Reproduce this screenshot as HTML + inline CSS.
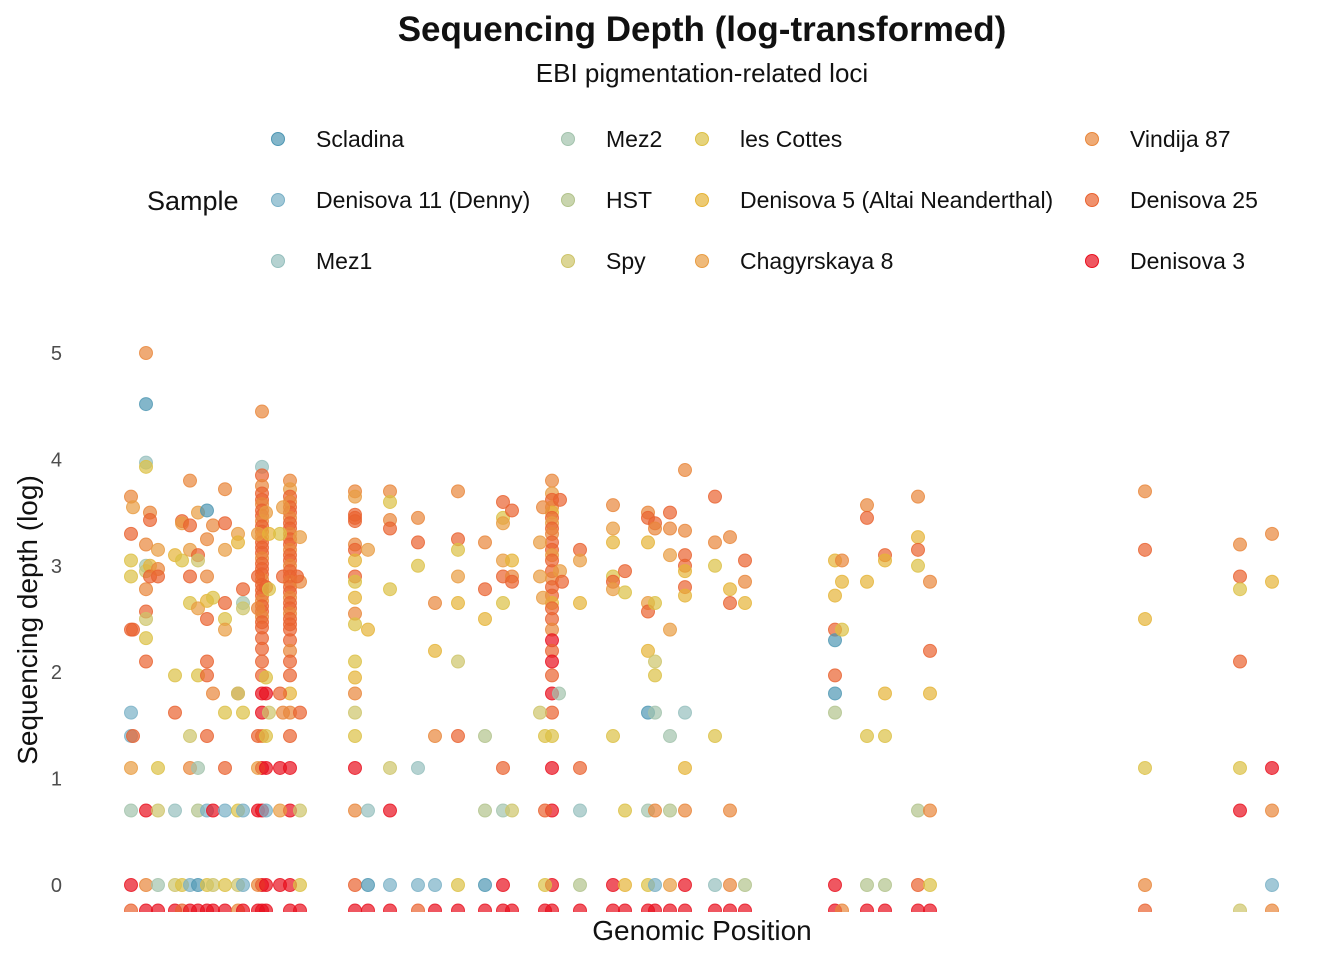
<!DOCTYPE html>
<html><head><meta charset="utf-8"><style>
body{margin:0;background:#fff;}
svg text{font-family:"Liberation Sans",sans-serif;}
</style></head><body>
<svg id="chart" width="1344" height="960" xmlns="http://www.w3.org/2000/svg">
<defs><clipPath id="plotclip"><rect x="100" y="300" width="1220" height="612"/></clipPath></defs>
<text x="702" y="41" text-anchor="middle" font-size="35" font-weight="bold" fill="#111">Sequencing Depth (log-transformed)</text>
<text x="702" y="82" text-anchor="middle" font-size="26" fill="#111">EBI pigmentation-related loci</text>
<text x="147" y="210" font-size="27" fill="#111">Sample</text>
<g id="legend"></g>
<g id="yaxis"></g>
<g id="points" clip-path="url(#plotclip)"></g>
<text transform="translate(37,620) rotate(-90)" text-anchor="middle" font-size="28" fill="#111">Sequencing depth (log)</text>
<text x="702" y="940" text-anchor="middle" font-size="28" fill="#111">Genomic Position</text>
</svg>
<script>
const samples=["Scladina","Denisova 11 (Denny)","Mez1","Mez2","HST","Spy","les Cottes","Denisova 5 (Altai Neanderthal)","Chagyrskaya 8","Vindija 87","Denisova 25","Denisova 3"];
const colors=["#4f97b3","#79b0c6","#95bfbd","#a3c3ad","#b2c38c","#cdc46a","#dcc045","#e5b437","#e89c42","#e8863a","#e9622f","#e8101e"];
const yTicks=[0,1,2,3,4,5];
const points=[
[6,9,3.65],[6,10,3.3],[6,6,3.05],[6,6,2.9],[6,10,2.4],[6,1,1.62],[6,1,1.4],[6,8,1.1],[6,3,0.7],[6,11,0],[6,10,-0.24],[8,8,3.55],[8,10,2.4],[8,10,1.4],
[21,9,5.0],[21,0,4.52],[21,2,3.97],[21,6,3.93],[21,9,3.2],[21,3,3.0],[21,5,2.95],[21,9,2.78],[21,10,2.57],[21,5,2.5],[21,6,2.32],[21,10,2.1],[21,11,0.7],[21,9,0],[21,11,-0.24],
[25,9,3.5],[25,10,3.43],[25,7,3.0],[25,10,2.9],[33,8,3.15],[33,9,2.97],[33,10,2.9],[33,6,1.1],[33,5,0.7],[33,3,0],[33,11,-0.24],
[50,7,3.1],[50,6,1.97],[50,10,1.62],[50,2,0.7],[50,5,0],[50,11,-0.24],[57,10,3.42],[57,8,3.4],[57,6,3.05],[57,6,0],[57,10,-0.24],
[65,9,3.8],[65,10,3.38],[65,8,3.15],[65,10,2.9],[65,6,2.65],[65,5,1.4],[65,9,1.1],[65,1,0],[65,11,-0.24],
[73,8,3.5],[73,10,3.1],[73,5,3.05],[73,8,2.6],[73,6,1.97],[73,3,1.1],[73,4,0.7],[73,0,0],[73,11,-0.24],
[82,0,3.52],[82,9,3.25],[82,9,2.9],[82,7,2.67],[82,10,2.5],[82,10,2.1],[82,10,1.97],[82,10,1.4],[82,1,0.7],[82,6,0],[82,11,-0.24],
[88,9,3.38],[88,9,1.8],[88,6,2.7],[88,11,0.7],[88,5,0],[88,11,-0.24],
[100,9,3.72],[100,10,3.4],[100,8,3.15],[100,6,2.5],[100,8,2.4],[100,10,2.65],[100,6,1.62],[100,10,1.1],[100,1,0.7],[100,6,0],[100,11,-0.24],
[113,8,3.3],[113,7,3.22],[113,9,1.8],[113,5,1.8],[113,6,0.7],[113,5,0],[113,9,-0.24],[118,10,2.78],[118,3,2.65],[118,5,2.6],[118,6,1.62],[118,1,0.7],[118,1,0],[118,11,-0.24],
[137,9,4.45],[137,2,3.93],[137,10,3.85],[137,9,3.75],[137,10,3.68],[137,10,3.62],[137,9,3.58],[137,10,3.52],[137,10,3.47],[137,9,3.42],[137,10,3.37],[137,10,3.32],[137,9,3.27],[137,10,3.22],[137,10,3.17],[137,10,3.12],[137,9,3.07],[137,10,3.02],[137,10,2.97],[137,10,2.92],[137,9,2.87],[137,10,2.82],[137,10,2.77],[137,10,2.72],[137,9,2.67],[137,10,2.62],[137,10,2.57],[137,9,2.52],[137,10,2.47],[137,10,2.42],[137,10,2.32],[137,10,2.22],[137,10,2.1],[137,10,1.97],[137,11,1.8],[137,11,1.62],[137,9,1.4],[137,11,1.1],[137,11,0.7],[137,11,0],[137,11,-0.24],
[133,8,3.3],[133,10,2.9],[133,9,2.6],[133,10,1.4],[133,8,1.1],[133,11,0.7],[133,9,0],[133,11,-0.24],[141,8,3.5],[141,10,2.8],[141,6,1.95],[141,11,1.8],[141,6,1.4],[141,11,1.1],[141,1,0.7],[141,11,0],[141,11,-0.24],[144,7,3.3],[144,6,2.78],[144,5,1.62],
[165,9,3.8],[165,8,3.72],[165,10,3.65],[165,9,3.6],[165,10,3.55],[165,10,3.5],[165,9,3.45],[165,10,3.4],[165,10,3.35],[165,9,3.3],[165,10,3.25],[165,10,3.2],[165,9,3.15],[165,10,3.1],[165,10,3.05],[165,9,3.0],[165,10,2.95],[165,10,2.9],[165,8,2.85],[165,10,2.8],[165,10,2.75],[165,9,2.7],[165,10,2.65],[165,10,2.6],[165,9,2.55],[165,10,2.5],[165,10,2.45],[165,10,2.4],[165,10,2.3],[165,9,2.2],[165,10,2.1],[165,10,1.97],[165,7,1.8],[165,9,1.62],[165,10,1.4],[165,11,1.1],[165,11,0.7],[165,11,0],[165,11,-0.24],
[155,6,3.3],[155,10,1.8],[155,11,1.1],[155,8,0.7],[155,11,0],[158,8,3.55],[158,10,2.9],[158,9,1.62],[175,8,3.27],[175,9,2.85],[175,10,1.62],[175,5,0.7],[175,6,0],[175,11,-0.24],[172,10,2.9],
[230,9,3.7],[230,8,3.65],[230,10,3.48],[230,10,3.45],[230,10,3.42],[230,9,3.2],[230,10,3.15],[230,7,3.05],[230,10,2.9],[230,6,2.85],[230,7,2.7],[230,9,2.55],[230,6,2.45],[230,6,2.1],[230,7,1.95],[230,9,1.8],[230,5,1.62],[230,6,1.4],[230,11,1.1],[230,9,0.7],[230,10,0],[230,11,-0.24],
[243,8,3.15],[243,7,2.4],[243,2,0.7],[243,0,0],[243,11,-0.24],[265,9,3.7],[265,6,3.6],[265,9,3.43],[265,10,3.35],[265,6,2.78],[265,5,1.1],[265,11,0.7],[265,1,0],[265,11,-0.24],
[293,9,3.45],[293,10,3.22],[293,6,3.0],[293,2,1.1],[293,1,0],[293,10,-0.24],[310,9,2.65],[310,7,2.2],[310,9,1.4],[310,1,0],[310,11,-0.24],
[333,9,3.7],[333,10,3.25],[333,6,3.15],[333,8,2.9],[333,7,2.65],[333,5,2.1],[333,10,1.4],[333,6,0],[333,11,-0.24],
[360,9,3.22],[360,7,2.5],[360,10,2.78],[360,4,1.4],[360,4,0.7],[360,0,0],[360,11,-0.24],
[378,10,3.6],[378,6,3.45],[378,8,3.4],[378,8,3.05],[378,10,2.9],[378,6,2.65],[378,10,1.1],[378,3,0.7],[378,11,0],[378,11,-0.24],
[387,10,3.52],[387,7,3.05],[387,9,2.9],[387,10,2.85],[387,5,0.7],[387,11,-0.24],
[427,9,3.8],[427,8,3.68],[427,10,3.62],[427,9,3.55],[427,7,3.5],[427,10,3.45],[427,8,3.4],[427,10,3.35],[427,9,3.3],[427,10,3.22],[427,10,3.15],[427,8,3.1],[427,10,3.05],[427,10,2.95],[427,9,2.88],[427,10,2.8],[427,10,2.72],[427,7,2.65],[427,10,2.6],[427,10,2.5],[427,9,2.4],[427,11,2.3],[427,10,2.2],[427,11,2.1],[427,10,1.97],[427,11,1.8],[427,10,1.62],[427,6,1.4],[427,11,1.1],[427,11,0.7],[427,11,0],[427,11,-0.24],
[415,8,3.22],[415,8,2.9],[415,5,1.62],[418,9,3.55],[418,8,2.7],[420,6,1.4],[420,10,0.7],[420,6,0],[420,11,-0.24],[435,10,3.62],[435,8,2.95],[437,10,2.85],[434,3,1.8],
[455,10,3.15],[455,8,3.05],[455,7,2.65],[455,10,1.1],[455,2,0.7],[455,4,0],[455,11,-0.24],
[488,9,3.57],[488,8,3.35],[488,7,3.22],[488,6,2.9],[488,10,2.85],[488,8,2.78],[488,6,1.4],[488,11,0],[488,11,-0.24],
[500,10,2.95],[500,6,2.75],[500,6,0.7],[500,7,0],[500,11,-0.24],
[523,9,3.5],[523,10,3.45],[523,7,3.22],[523,8,2.65],[523,10,2.57],[523,7,2.2],[523,0,1.62],[523,3,0.7],[523,6,0],[523,11,-0.24],
[530,10,3.4],[530,9,3.35],[530,6,2.65],[530,6,1.97],[530,5,2.1],[530,3,1.62],[530,9,0.7],[530,1,0],[530,11,-0.24],
[545,10,3.5],[545,9,3.35],[545,8,3.1],[545,8,2.4],[545,3,1.4],[545,4,0.7],[545,8,0],[545,11,-0.24],
[560,9,3.9],[560,9,3.33],[560,10,3.1],[560,10,3.0],[560,7,2.95],[560,10,2.8],[560,7,2.72],[560,2,1.62],[560,7,1.1],[560,9,0.7],[560,11,0],[560,11,-0.24],
[590,10,3.65],[590,9,3.22],[590,6,3.0],[590,6,1.4],[590,2,0],[590,11,-0.24],[605,9,3.27],[605,7,2.78],[605,10,2.65],[605,9,0.7],[605,9,0],[605,11,-0.24],
[620,10,3.05],[620,9,2.85],[620,7,2.65],[620,4,0],[620,11,-0.24],
[710,7,3.05],[710,7,2.72],[710,10,2.4],[710,0,2.3],[710,0,1.8],[710,10,1.97],[710,4,1.62],[710,11,0],[710,11,-0.24],[717,9,3.05],[717,7,2.85],[717,6,2.4],[717,9,-0.24],
[742,9,3.57],[742,10,3.45],[742,7,2.85],[742,6,1.4],[742,4,0],[742,11,-0.24],[760,10,3.1],[760,7,3.05],[760,7,1.8],[760,6,1.4],[760,4,0],[760,11,-0.24],
[793,9,3.65],[793,7,3.27],[793,10,3.15],[793,6,3.0],[793,4,0.7],[793,10,0],[793,11,-0.24],[805,9,2.85],[805,10,2.2],[805,7,1.8],[805,9,0.7],[805,6,0],[805,11,-0.24],
[1020,9,3.7],[1020,10,3.15],[1020,7,2.5],[1020,6,1.1],[1020,9,0],[1020,10,-0.24],
[1115,9,3.2],[1115,10,2.9],[1115,6,2.78],[1115,10,2.1],[1115,6,1.1],[1115,11,0.7],[1115,5,-0.24],
[1147,9,3.3],[1147,7,2.85],[1147,11,1.1],[1147,9,0.7],[1147,1,0],[1147,9,-0.24]
];
const NS="http://www.w3.org/2000/svg";
const xScale=p=>125+p;
const yScale=v=>885-v*106.4;
const yax=document.getElementById('yaxis');
yTicks.forEach(t=>{
  const e=document.createElementNS(NS,'text');
  
  
  e.setAttribute('x',62);e.setAttribute('y',yScale(t)+7);e.setAttribute('text-anchor','end');
  e.setAttribute('font-size','20');e.setAttribute('fill','#4d4d4d');e.textContent=t;yax.appendChild(e);
});
const pg=document.getElementById('points');
points.forEach(d=>{
  const c=document.createElementNS(NS,'circle');
  
  
  c.setAttribute('cx',xScale(d[0]));c.setAttribute('cy',yScale(d[2]));c.setAttribute('r',6.5);
  c.setAttribute('fill',colors[d[1]]);c.setAttribute('fill-opacity','0.7');
  c.setAttribute('stroke',colors[d[1]]);c.setAttribute('stroke-opacity','0.8');c.setAttribute('stroke-width','1');
  pg.appendChild(c);
});
const legX=[278,568,702,1092],legY=[139,200,261];
const leg=document.getElementById('legend');
const legCol=[0,0,0,1,1,1,2,2,2,3,3,3];
samples.forEach((s,i)=>{
  const col=legCol[i],row=i%3;
  const g=document.createElementNS(NS,'g');
  
  
  const c=document.createElementNS(NS,'circle');
  c.setAttribute('cx',legX[col]);c.setAttribute('cy',legY[row]);c.setAttribute('r',6.5);
  c.setAttribute('fill',colors[i]);c.setAttribute('fill-opacity','0.7');c.setAttribute('stroke',colors[i]);
  const t=document.createElementNS(NS,'text');
  t.setAttribute('x',legX[col]+38);t.setAttribute('y',legY[row]+8);t.setAttribute('font-size','23');t.setAttribute('fill','#111');
  t.textContent=s;
  g.appendChild(c);g.appendChild(t);leg.appendChild(g);
});
</script>
</body></html>
